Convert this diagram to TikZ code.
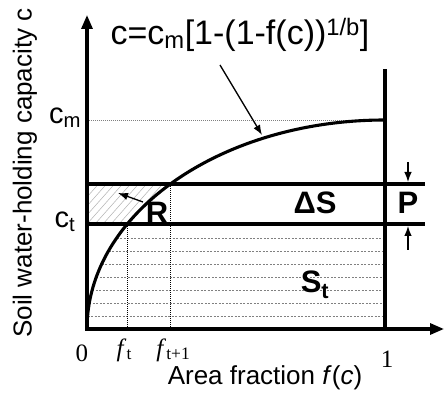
\documentclass[tikz,border=0pt]{standalone}
\usepackage{fontspec}
\setsansfont{Liberation Sans}
\newfontfamily\serifnum{Liberation Serif}
\usetikzlibrary{arrows.meta}

\tikzset{
  thickline/.style={line width=3.1pt},
  gridline/.style={gray, line width=0.6pt, dash pattern=on 2pt off 1.5pt},
  dotline/.style={line width=0.9pt, dash pattern=on 1pt off 1pt},
  pointer/.style={-{Latex[length=10pt,width=7.5pt]}, line width=1.3pt},
  axis/.style={thickline, -{Triangle[length=14pt,width=11pt]}},
  lbl/.style={font=\sffamily\fontsize{26}{28}\selectfont},
  level/.style={font=\sffamily\fontsize{29}{31}\selectfont},
  region/.style={font=\sffamily\bfseries\fontsize{31}{33}\selectfont},
  tick/.style={font=\serifnum\fontsize{25}{27}\selectfont},
}

\begin{document}
\begin{tikzpicture}[x=1pt,y=1pt]
\useasboundingbox (-87,-65) rectangle (358,329);
% where the curve crosses c_t and c_t+1
\pgfmathsetmacro{\ft}{298*(1-sqrt(1-(105/209)^2))}
\pgfmathsetmacro{\fn}{298*(1-sqrt(1-(145/209)^2))}

% hatched part (R)
\begin{scope}
  \clip (0,105) rectangle (298,145);
  \clip (0,0) arc[start angle=180,end angle=90,x radius=298,y radius=209] -- (0,209) -- cycle;
  \foreach \s in {-56,-48,...,96}
    \draw[gray!60, line width=0.5pt] (\s,105) -- ++(40,45);
\end{scope}

% storage S_t
\foreach \y in {13,26,...,91}
  \draw[gridline] ({298*(1-sqrt(1-(\y/209)^2))},\y) -- (298,\y);

\draw[gray, line width=0.5pt, dash pattern=on 1pt off 1pt] (0,209) -- (298,209);
\draw[dotline] (\ft,0) -- (\ft,105);
\draw[dotline] (\fn,0) -- (\fn,145);

\draw[thickline] (0,145) -- (338,145);
\draw[thickline] (0,105) -- (338,105);
\draw[thickline] (298,0) -- (298,260);
\draw[thickline] (0,0) arc[start angle=180,end angle=90,x radius=298,y radius=209];

\draw[axis] (0,-1.5) -- (0,314);
\draw[axis] (-1.5,0) -- (357,0);

% labels
\node[level] (cm) at (-22,211) {c\textsubscript{m}};
\node[level] (ct) at (-22,107) {c\textsubscript{t}};
\node[tick] (zero) at (-5,-24) {0};
\node[tick] (ftlabel) at (\ft-3,-21) {\textit{f}\textsubscript{t}};
\node[tick] (fnlabel) at (\fn+3,-21) {\textit{f}\textsubscript{t+1}};
\node[tick] (one) at (300,-30) {1};
\node[lbl] (xlabel) at (178,-49) {Area fraction \textit{f}(\textit{c})};
\node[lbl, rotate=90] (ylabel) at (-62,156) {Soil water-holding capacity c};
\node[font=\sffamily\fontsize{34}{36}\selectfont] (law) at (153,294)
  {c=c\textsubscript{m}[1-(1-f(c))\textsuperscript{1/b}]};

\node[region] (R) at (70,116) {R};
\node[region] (dS) at (228,126) {ΔS};
\node[region] (P) at (321,126) {P};
\node[region] (St) at (228,44) {S\textsubscript{t}};

% pointers
\coordinate (lawtail) at (133,264);
\coordinate (lawhead) at (175,194);
\coordinate (Rtail) at (56,127);
\coordinate (Rhead) at (31,136);
\coordinate (Ptop) at (321,167);
\coordinate (Ptophead) at (321,147);
\coordinate (Pbot) at (321,79);
\coordinate (Pbothead) at (321,103);
\draw[pointer] (lawtail) -- (lawhead);
\draw[pointer] (Rtail) -- (Rhead);
\draw[pointer] (Ptop) -- (Ptophead);
\draw[pointer] (Pbot) -- (Pbothead);
\end{tikzpicture}
\end{document}
